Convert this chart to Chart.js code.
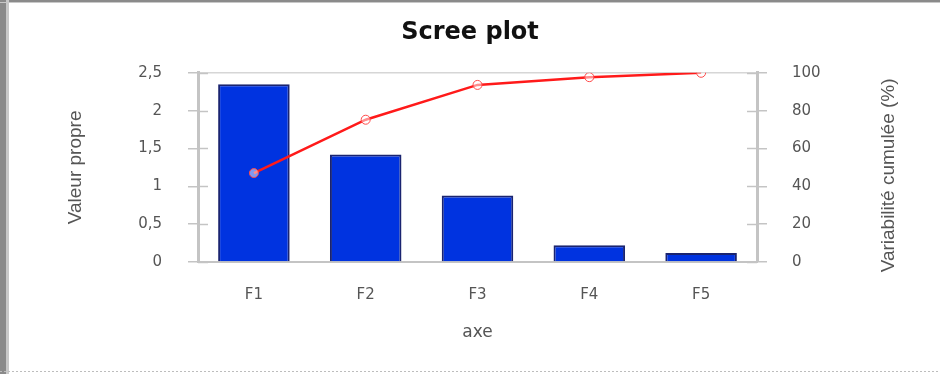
<!DOCTYPE html>
<html>
<head>
<meta charset="utf-8">
<script src="https://cdn.jsdelivr.net/npm/chart.js@4/dist/chart.umd.min.js"></script>
<style>
    html, body { margin: 0; padding: 0; background: #fff; }
    #wrap { width: 940px; height: 374px; position: relative; }
</style>
</head>
<body>
<div id="wrap"><canvas id="screeChart" width="940" height="374"></canvas></div>
<script>
const axes = ['F1', 'F2', 'F3', 'F4', 'F5'];
const eigenvalues = [2.35, 1.42, 0.88, 0.22, 0.12];
const cumulativeVariability = [47.0, 75.2, 93.6, 97.7, 100];
const eigenTicks = [0, 0.5, 1, 1.5, 2, 2.5];
const percentTicks = [0, 20, 40, 60, 80, 100];
const rightTitle = 'Variabilité cumulée (%)';

const axisGray = '#c4c4c4';
const labelGray = '#555555';

// frame around the picture, inner tick halves (ticks cross the axis lines),
// and the right axis title which reads bottom-to-top
const framePlugin = {
    id: 'frame',
    beforeDraw(chart) {
        const ctx = chart.ctx;
        ctx.save();
        ctx.fillStyle = '#ffffff';
        ctx.fillRect(0, 0, chart.width, chart.height);
        ctx.fillStyle = '#8a8a8a';
        ctx.fillRect(0, 0, chart.width, 2);
        ctx.fillRect(0, 0, 6, chart.height);
        ctx.fillStyle = '#c8c8c8';
        ctx.fillRect(6, 0, 3, chart.height);
        ctx.fillRect(0, 2, chart.width, 1);
        ctx.strokeStyle = '#bdbdbd';
        ctx.setLineDash([2, 2]);
        ctx.beginPath();
        ctx.moveTo(0, 371.5);
        ctx.lineTo(chart.width, 371.5);
        ctx.stroke();
        ctx.restore();
    },
    afterDraw(chart) {
        const ctx = chart.ctx;
        const y = chart.scales.y;
        const y1 = chart.scales.y1;
        ctx.save();
        ctx.strokeStyle = axisGray;
        ctx.lineWidth = 1.5;
        eigenTicks.forEach(v => {
            const p = Math.round(y.getPixelForValue(v)) + 0.5;
            ctx.beginPath();
            ctx.moveTo(y.right, p);
            ctx.lineTo(y.right + 10, p);
            ctx.stroke();
        });
        percentTicks.forEach(v => {
            const p = Math.round(y1.getPixelForValue(v)) + 0.5;
            ctx.beginPath();
            ctx.moveTo(y1.left - 10, p);
            ctx.lineTo(y1.left, p);
            ctx.stroke();
        });

        ctx.translate(889, (y1.top + y1.bottom) / 2 + 8);
        ctx.rotate(-Math.PI / 2);
        ctx.fillStyle = labelGray;
        ctx.font = '19px "Liberation Sans"';
        ctx.textAlign = 'center';
        ctx.textBaseline = 'middle';
        ctx.fillText(rightTitle, 0, 0);
        ctx.restore();
    }
};

new Chart(document.getElementById('screeChart').getContext('2d'), {
    type: 'bar',
    data: {
        labels: axes,
        datasets: [
            {
                type: 'line',
                label: rightTitle,
                data: cumulativeVariability,
                yAxisID: 'y1',
                borderColor: '#ff1a1a',
                borderWidth: 2.5,
                pointRadius: 4.5,
                pointBorderWidth: 1,
                pointBackgroundColor: 'rgba(255,255,255,0.5)',
                pointBorderColor: '#ff4a4a',
                tension: 0,
                order: 0
            },
            {
                label: 'Valeur propre',
                data: eigenvalues,
                yAxisID: 'y',
                backgroundColor: '#0033e0',
                borderColor: '#1a2470',
                borderWidth: 2,
                borderSkipped: 'bottom',
                categoryPercentage: 0.8,
                barPercentage: 0.8,
                order: 1
            }
        ]
    },
    options: {
        responsive: false,
        animation: false,
        layout: { padding: 0 },
        plugins: {
            legend: { display: false },
            tooltip: { enabled: false },
            title: {
                display: true,
                text: 'Scree plot',
                color: '#111111',
                font: { family: 'DejaVu Sans', size: 24, weight: 'bold' },
                padding: { top: 18, bottom: 26 }
            }
        },
        scales: {
            x: {
                grid: { display: false, drawTicks: false },
                border: { display: true, color: axisGray, width: 2 },
                ticks: {
                    color: labelGray,
                    padding: 24,
                    font: { family: 'DejaVu Sans', size: 15 }
                },
                title: {
                    display: true,
                    text: 'axe',
                    color: labelGray,
                    font: { family: 'DejaVu Sans', size: 17 },
                    padding: { top: 0, bottom: 31 }
                },
                afterFit(scale) { scale.height = 112; }
            },
            y: {
                position: 'left',
                min: 0,
                max: 2.5,
                afterBuildTicks(scale) { scale.ticks = eigenTicks.map(v => ({ value: v })); },
                grid: {
                    color: ctx => ctx.tick && ctx.tick.value === 2.5 ? '#d6d6d6' : 'rgba(0,0,0,0)',
                    tickColor: axisGray,
                    tickLength: 10,
                    lineWidth: 1.5
                },
                border: { display: true, color: axisGray, width: 3 },
                ticks: {
                    color: labelGray,
                    padding: 26,
                    font: { family: 'DejaVu Sans', size: 15 },
                    callback: v => String(v).replace('.', ',')
                },
                title: {
                    display: true,
                    text: 'Valeur propre',
                    color: labelGray,
                    font: { family: 'Liberation Sans', size: 19 },
                    padding: { top: 64, bottom: 0 }
                },
                afterFit(scale) { scale.width = 198; }
            },
            y1: {
                position: 'right',
                min: 0,
                max: 100,
                afterBuildTicks(scale) { scale.ticks = percentTicks.map(v => ({ value: v })); },
                grid: {
                    drawOnChartArea: false,
                    tickColor: axisGray,
                    tickLength: 10,
                    lineWidth: 1.5
                },
                border: { display: true, color: axisGray, width: 3 },
                ticks: {
                    color: labelGray,
                    padding: 25,
                    font: { family: 'DejaVu Sans', size: 15 }
                },
                title: { display: false },
                afterFit(scale) { scale.width = 183; }
            }
        }
    },
    plugins: [framePlugin]
});
</script>
</body>
</html>
